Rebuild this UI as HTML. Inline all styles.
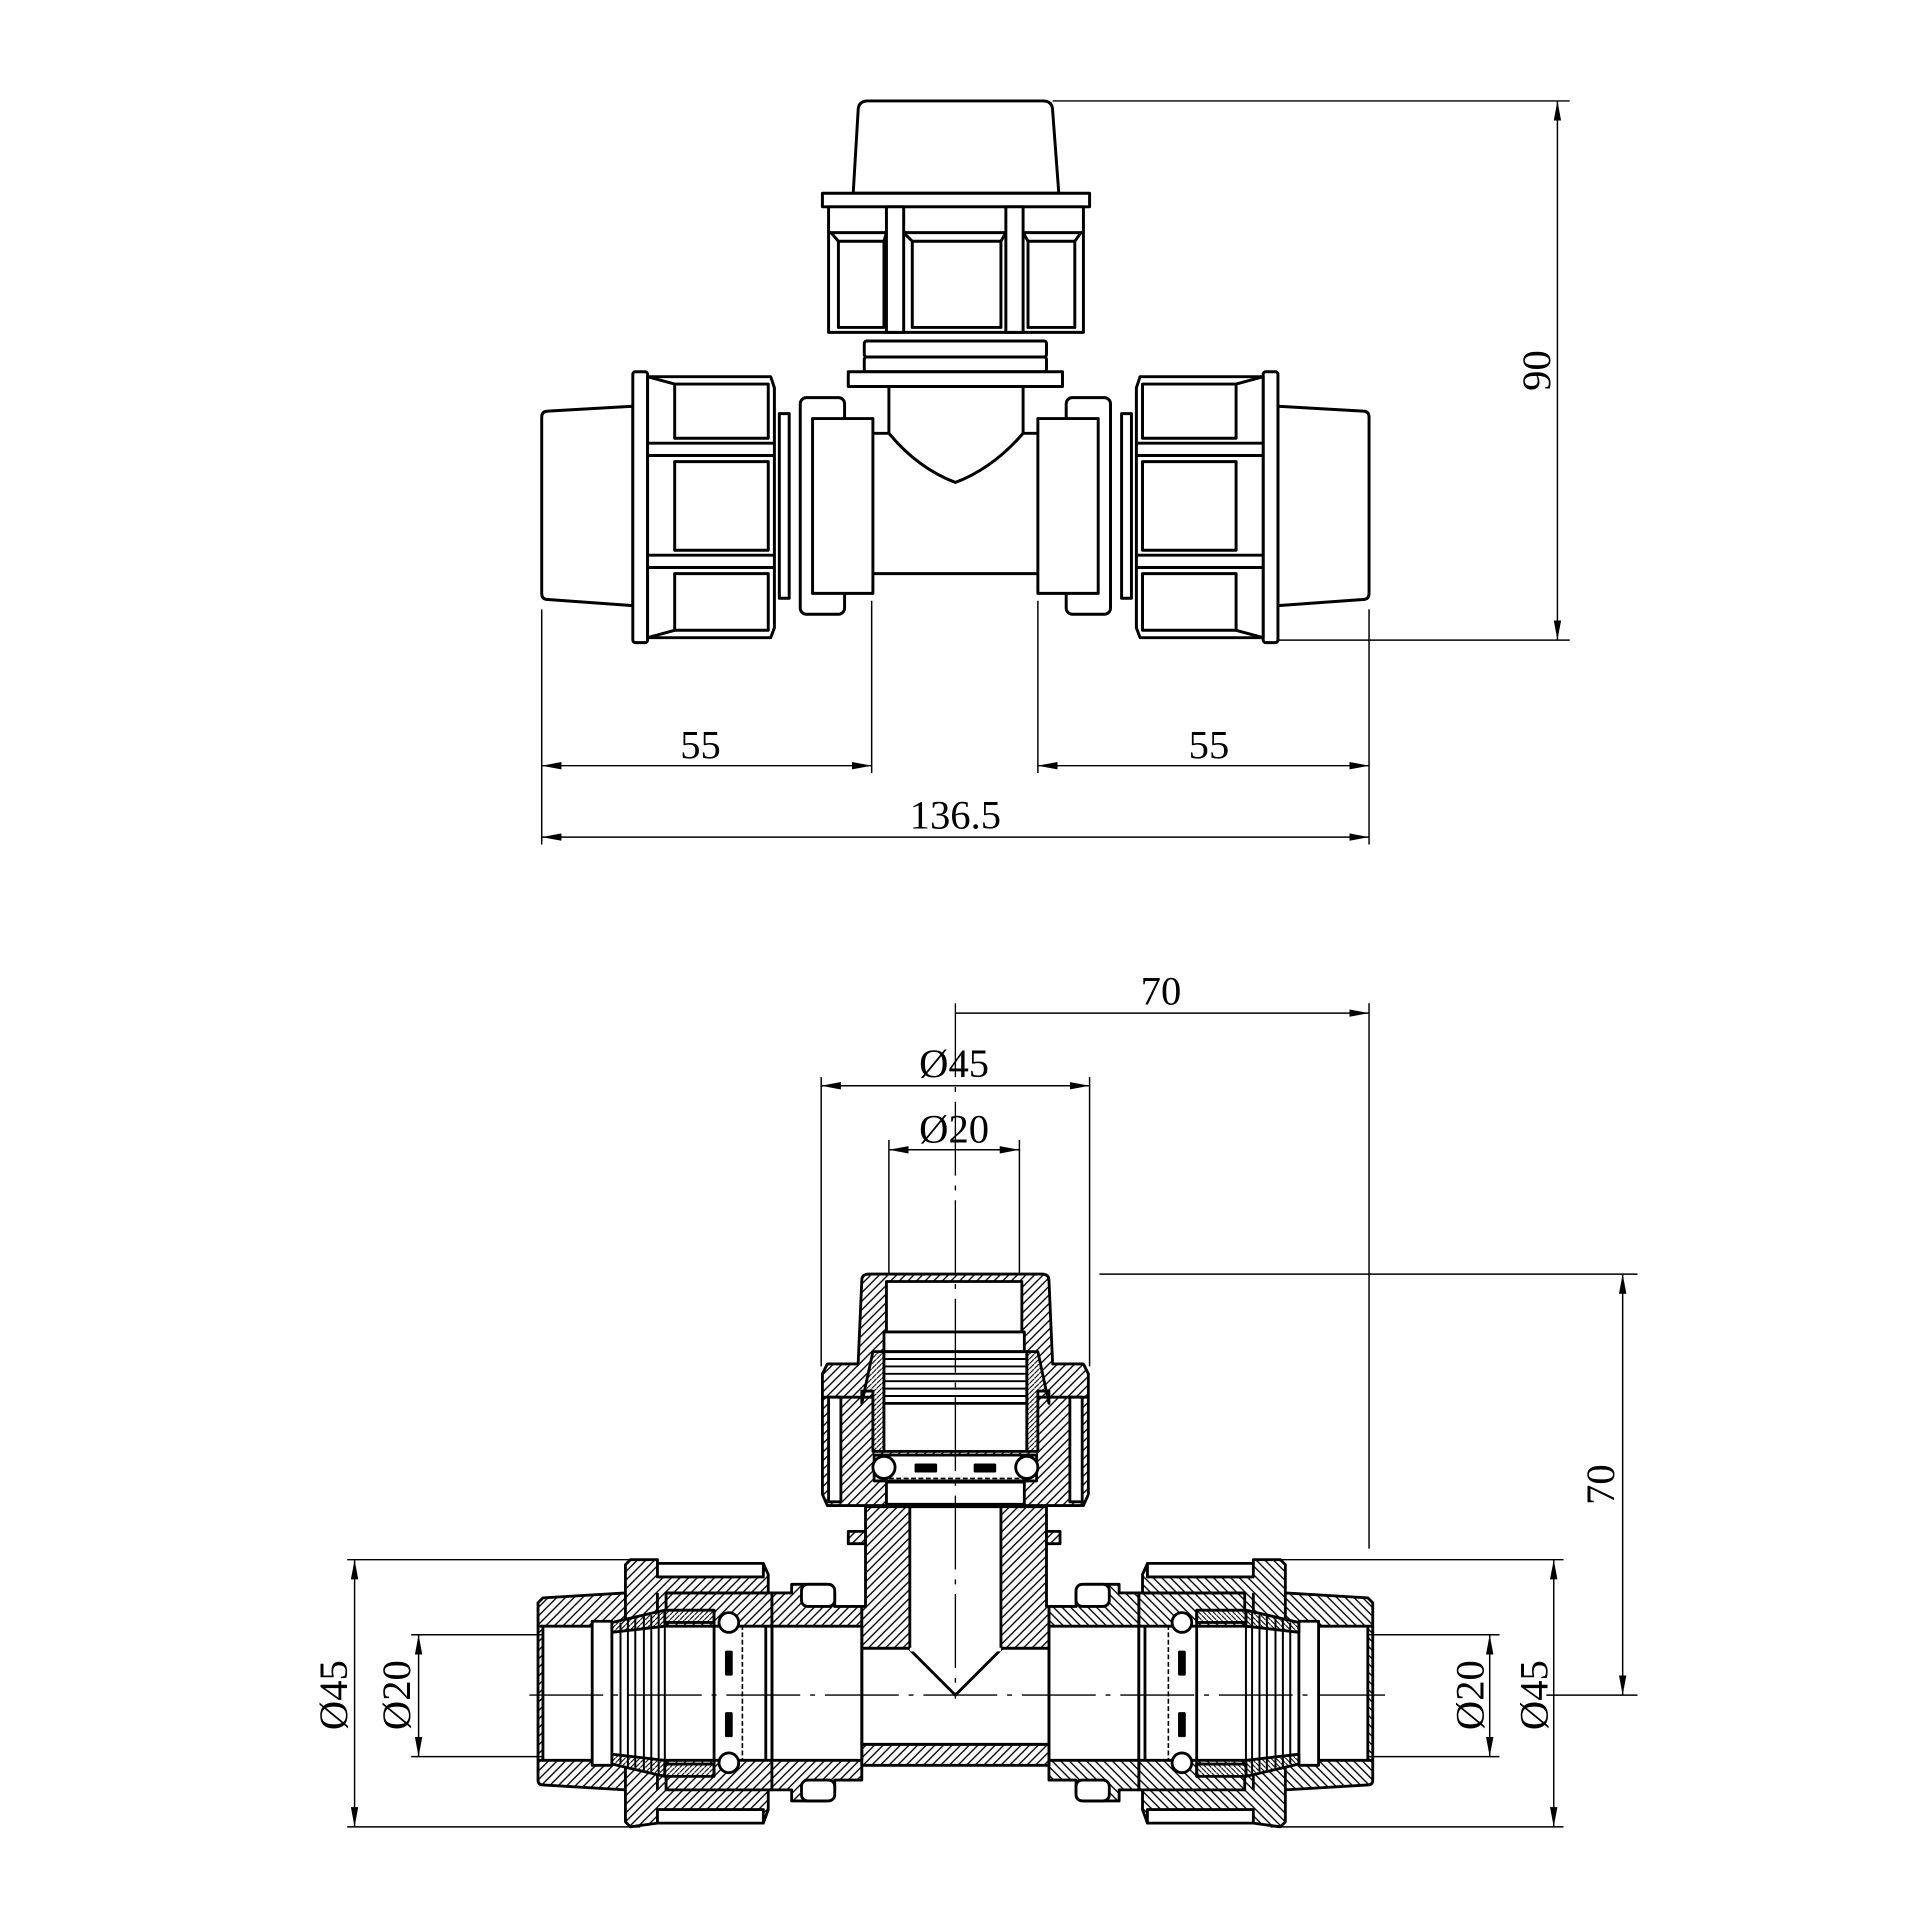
<!DOCTYPE html>
<html><head><meta charset="utf-8"><style>
html,body{margin:0;padding:0;background:#fff}
svg{display:block}
text{font-family:"Liberation Serif",serif;font-size:33px;fill:#000}
</style></head><body>
<svg width="1928" height="1929" viewBox="0 0 1566 1567" preserveAspectRatio="none" xmlns="http://www.w3.org/2000/svg">
<defs>
<pattern id="h" patternUnits="userSpaceOnUse" width="7" height="7"><rect width="7" height="7" fill="#fff"/><path d="M-1,8 L8,-1 M-2,2 L2,-2 M5,9 L9,5" stroke="#000" stroke-width="1.1"/></pattern>
<pattern id="h2" patternUnits="userSpaceOnUse" width="4" height="4"><rect width="4" height="4" fill="#fff"/><path d="M-1,5 L5,-1" stroke="#000" stroke-width="0.9"/></pattern>
<marker id="a" viewBox="0 0 16 6" refX="16" refY="3" markerWidth="16" markerHeight="6" markerUnits="userSpaceOnUse" orient="auto-start-reverse"><path d="M0,0 L16,3 L0,6 Z" fill="#000"/></marker>
</defs>

<!-- ===== TOP VIEW ===== -->
<g fill="#fff" stroke="#000" stroke-width="2.4" stroke-linejoin="round">
  <path d="M697,90 Q697,82 705,82 L847,82 Q855,82 855,90 L860,157 L693,157 Z"/>
  <rect x="668" y="157" width="217" height="11"/>
  <rect x="673" y="168" width="207" height="102"/>
  <line x1="673" y1="189" x2="880" y2="189"/>
  <rect x="720" y="168" width="14" height="102"/>
  <rect x="817" y="168" width="14" height="102"/>
  <rect x="681" y="196" width="37" height="70"/>
  <rect x="741" y="196" width="72" height="70"/>
  <rect x="835" y="196" width="38" height="70"/>
  <path d="M681,196 L675,189 M718,196 L720,189 M741,196 L734,189 M813,196 L817,189 M835,196 L831,189 M873,196 L878,189" fill="none"/>
  <rect x="702" y="277" width="148" height="13" rx="2"/>
  <rect x="702" y="290" width="148" height="12" rx="2"/>
  <rect x="689" y="302" width="174" height="12"/>
  <path d="M722,314 L722,352 Q745,380 776,392 Q807,380 831,352 L831,314 Z"/>
  <path d="M706,352 L722,352 Q745,380 776,392 Q807,380 831,352 L846,352 L846,466 L706,466 Z"/>
  <rect x="633" y="336" width="8" height="150"/>
  <rect x="650" y="323" width="36" height="176" rx="5"/>
  <rect x="660" y="340" width="49" height="142"/>
  <rect x="911" y="336" width="8" height="150"/>
  <rect x="866" y="323" width="36" height="176" rx="5"/>
  <rect x="843" y="340" width="49" height="142"/>
  <path d="M514,330 L445,334 Q440,334 440,339 L440,482 Q440,487 445,487 L514,492 Z"/>
  <rect x="514" y="302" width="12" height="220" rx="2"/>
  <path d="M526,306 L626,306 L629,315 L629,510 L626,518 L526,518 Z"/>
  <line x1="526" y1="360" x2="629" y2="360"/><line x1="526" y1="370" x2="629" y2="370"/>
  <line x1="526" y1="451" x2="629" y2="451"/><line x1="526" y1="461" x2="629" y2="461"/>
  <rect x="548" y="312" width="76" height="44"/>
  <rect x="548" y="375" width="76" height="72"/>
  <rect x="548" y="466" width="76" height="46"/>
  <line x1="548" y1="312" x2="526" y2="306"/><line x1="548" y1="512" x2="526" y2="518"/>
  <path d="M1038,330 L1107,334 Q1112,334 1112,339 L1112,482 Q1112,487 1107,487 L1038,492 Z"/>
  <rect x="1026" y="302" width="12" height="220" rx="2"/>
  <path d="M1026,306 L926,306 L923,315 L923,510 L926,518 L1026,518 Z"/>
  <line x1="923" y1="360" x2="1026" y2="360"/><line x1="923" y1="370" x2="1026" y2="370"/>
  <line x1="923" y1="451" x2="1026" y2="451"/><line x1="923" y1="461" x2="1026" y2="461"/>
  <rect x="928" y="312" width="76" height="44"/>
  <rect x="928" y="375" width="76" height="72"/>
  <rect x="928" y="466" width="76" height="46"/>
  <line x1="1004" y1="312" x2="1026" y2="306"/><line x1="1004" y1="512" x2="1026" y2="518"/>
</g>

<g stroke="#000" stroke-width="1.2" fill="none">
  <line x1="855" y1="82" x2="1275" y2="82"/>
  <line x1="1038" y1="520" x2="1275" y2="520"/>
  <line x1="1265" y1="82" x2="1265" y2="520" marker-start="url(#a)" marker-end="url(#a)"/>
  <line x1="440" y1="495" x2="440" y2="686"/>
  <line x1="1112" y1="495" x2="1112" y2="686"/>
  <line x1="708" y1="488" x2="708" y2="628"/>
  <line x1="843" y1="488" x2="843" y2="628"/>
  <line x1="440" y1="622" x2="708" y2="622" marker-start="url(#a)" marker-end="url(#a)"/>
  <line x1="843" y1="622" x2="1112" y2="622" marker-start="url(#a)" marker-end="url(#a)"/>
  <line x1="440" y1="680" x2="1112" y2="680" marker-start="url(#a)" marker-end="url(#a)"/>
</g>
<text x="569" y="616" text-anchor="middle">55</text>
<text x="982" y="616" text-anchor="middle">55</text>
<text x="776" y="673" text-anchor="middle">136.5</text>
<text transform="translate(1259,301) rotate(-90)" text-anchor="middle">90</text>

<!-- ===== SECTION VIEW ===== -->
<g id="leftc" stroke="#000" stroke-width="2.3" stroke-linejoin="round">
  <path d="M441,1298 L508,1294 L627,1294 L627,1454 L508,1454 L441,1450 Q437,1450 437,1446 L437,1302 Z" fill="url(#h)"/>
  <path d="M508,1271 L512,1267 L534,1267 L534,1270 L620,1270 L624,1279 L624,1294 L541,1294 L541,1454 L624,1454 L624,1470 L620,1481 L534,1481 L512,1484 L508,1480 Z" fill="url(#h)"/>
  <rect x="534" y="1270" width="86" height="11" fill="#fff"/>
  <rect x="534" y="1470" width="86" height="11" fill="#fff"/>
  <line x1="534" y1="1294" x2="534" y2="1454"/>
  <rect x="441" y="1321" width="186" height="109" fill="#fff"/>
  <line x1="437" y1="1321" x2="441" y2="1321"/><line x1="437" y1="1430" x2="441" y2="1430"/>
  <rect x="481" y="1317" width="16" height="117" fill="#fff"/>
  <path d="M497,1318 L540,1308 L540,1321 L497,1326 Z" fill="url(#h2)"/>
  <path d="M497,1433 L540,1443 L540,1430 L497,1425 Z" fill="url(#h2)"/>
  <g fill="none" stroke-width="1.6"><line x1="497" y1="1318" x2="497" y2="1433"/><line x1="504" y1="1318" x2="504" y2="1433"/><line x1="510" y1="1316" x2="510" y2="1435"/><line x1="516" y1="1315" x2="516" y2="1436"/><line x1="523" y1="1313" x2="523" y2="1438"/><line x1="529" y1="1312" x2="529" y2="1439"/><line x1="535" y1="1310" x2="535" y2="1441"/><line x1="540" y1="1308" x2="540" y2="1443"/></g>
  <rect x="540" y="1308" width="40" height="10" fill="url(#h2)"/>
  <rect x="540" y="1433" width="40" height="10" fill="url(#h2)"/>
  <line x1="580" y1="1308" x2="580" y2="1443"/>
  <line x1="603" y1="1320" x2="603" y2="1430" stroke-dasharray="4 2" stroke-width="1.3"/>
  <circle cx="592" cy="1318" r="8" fill="#fff"/>
  <circle cx="592" cy="1432" r="8" fill="#fff"/>
  <rect x="590" y="1342" width="4" height="18" fill="#000"/>
  <rect x="590" y="1392" width="4" height="18" fill="#000"/>
  <path d="M627,1294 L643,1294 L643,1287 L670,1287 Q678,1287 678,1295 L678,1305 L700,1305 L700,1321 L627,1321 Z" fill="url(#h)"/>
  <path d="M627,1454 L643,1454 L643,1463 L670,1463 Q678,1463 678,1455 L678,1446 L700,1446 L700,1430 L627,1430 Z" fill="url(#h)"/>
  <rect x="651" y="1287" width="27" height="18" rx="5" fill="#fff"/>
  <rect x="651" y="1446" width="27" height="17" rx="5" fill="#fff"/>
  <line x1="622" y1="1321" x2="622" y2="1430"/>
</g>
<use href="#leftc" transform="translate(1552,0) scale(-1,1)"/>

<g stroke="#000" stroke-width="2.3" stroke-linejoin="round">
  <path d="M700,1305 L700,1339 L852,1339 L852,1305 L850,1305 L850,1224 L703,1224 L703,1305 Z" fill="url(#h)"/>
  <rect x="700" y="1417" width="152" height="17" fill="url(#h)"/>
  <rect x="700" y="1339" width="152" height="78" fill="#fff"/>
  <line x1="700" y1="1321" x2="700" y2="1430"/>
  <line x1="852" y1="1321" x2="852" y2="1430"/>
  <path d="M689,1244 L703,1244 L703,1254 L689,1254 Z M850,1244 L861,1244 L861,1254 L850,1254 Z" fill="url(#h)"/>
  <path d="M739,1224 L739,1340 L776,1377 L813,1340 L813,1224 Z" fill="#fff"/>
  <line x1="739" y1="1340" x2="813" y2="1340" stroke="#fff" stroke-width="3"/>

  <path d="M668,1116 L672,1108 L697,1108 L700,1040 Q700,1035 706,1035 L846,1035 Q852,1035 852,1040 L855,1108 L880,1108 L884,1116 L884,1214 L880,1223 L672,1223 L668,1214 Z" fill="url(#h)"/>
  <line x1="668" y1="1135" x2="884" y2="1135"/>
  <rect x="673" y="1135" width="10" height="85" fill="#fff"/>
  <rect x="869" y="1135" width="10" height="85" fill="#fff"/>
  <rect x="720" y="1041" width="110" height="41" fill="#fff"/>
  <rect x="718" y="1082" width="114" height="16" fill="#fff"/>
  <path d="M709,1098 L718,1098 L718,1179 L709,1179 L709,1130 L700,1130 L700,1140 Z" fill="url(#h2)"/>
  <path d="M843,1098 L834,1098 L834,1179 L843,1179 L843,1130 L852,1130 L852,1140 Z" fill="url(#h2)"/>
  <rect x="718" y="1098" width="116" height="42" fill="#fff"/>
  <g stroke-width="1.6"><line x1="718" y1="1104" x2="834" y2="1104"/><line x1="718" y1="1110" x2="834" y2="1110"/><line x1="718" y1="1116" x2="834" y2="1116"/><line x1="718" y1="1122" x2="834" y2="1122"/><line x1="718" y1="1128" x2="834" y2="1128"/><line x1="718" y1="1134" x2="834" y2="1134"/></g>
  <rect x="718" y="1140" width="116" height="39" fill="#fff"/>
  <rect x="710" y="1182" width="132" height="21" fill="#fff"/>
  <line x1="716" y1="1201" x2="836" y2="1201" stroke-dasharray="4 2" stroke-width="1.3"/>
  <rect x="720" y="1204" width="112" height="18" fill="#fff"/>
  <circle cx="718" cy="1192" r="9" fill="#fff"/>
  <circle cx="834" cy="1192" r="9" fill="#fff"/>
  <rect x="744" y="1190" width="16" height="5" fill="#000"/>
  <rect x="792" y="1190" width="16" height="5" fill="#000"/>
</g>

<g stroke="#000" stroke-width="1.1" fill="none">
  <line x1="776" y1="815" x2="776" y2="1380" stroke-dasharray="60 8 4 8"/>
  <line x1="430" y1="1377" x2="1125" y2="1377" stroke-dasharray="60 8 4 8"/>
</g>

<g stroke="#000" stroke-width="1.2" fill="none">
  <line x1="776" y1="823" x2="1112" y2="823" marker-end="url(#a)"/>
  <line x1="1112" y1="815" x2="1112" y2="1258"/>
  <line x1="667" y1="875" x2="667" y2="1110"/>
  <line x1="885" y1="875" x2="885" y2="1110"/>
  <line x1="667" y1="882" x2="885" y2="882" marker-start="url(#a)" marker-end="url(#a)"/>
  <line x1="722" y1="926" x2="722" y2="1035"/>
  <line x1="828" y1="926" x2="828" y2="1035"/>
  <line x1="722" y1="934" x2="828" y2="934" marker-start="url(#a)" marker-end="url(#a)"/>
  <line x1="893" y1="1035" x2="1330" y2="1035"/>
  <line x1="1256" y1="1377" x2="1330" y2="1377"/>
  <line x1="1318" y1="1035" x2="1318" y2="1377" marker-start="url(#a)" marker-end="url(#a)"/>
  <line x1="282" y1="1267" x2="520" y2="1267"/>
  <line x1="282" y1="1484" x2="520" y2="1484"/>
  <line x1="288" y1="1267" x2="288" y2="1484" marker-start="url(#a)" marker-end="url(#a)"/>
  <line x1="334" y1="1328" x2="440" y2="1328"/>
  <line x1="334" y1="1427" x2="440" y2="1427"/>
  <line x1="340" y1="1328" x2="340" y2="1427" marker-start="url(#a)" marker-end="url(#a)"/>
  <line x1="1032" y1="1267" x2="1270" y2="1267"/>
  <line x1="1032" y1="1484" x2="1270" y2="1484"/>
  <line x1="1262" y1="1267" x2="1262" y2="1484" marker-start="url(#a)" marker-end="url(#a)"/>
  <line x1="1112" y1="1328" x2="1218" y2="1328"/>
  <line x1="1112" y1="1427" x2="1218" y2="1427"/>
  <line x1="1210" y1="1328" x2="1210" y2="1427" marker-start="url(#a)" marker-end="url(#a)"/>
</g>
<text x="943" y="816" text-anchor="middle">70</text>
<text x="775" y="875" text-anchor="middle">Ø45</text>
<text x="775" y="928" text-anchor="middle">Ø20</text>
<text transform="translate(1311,1206) rotate(-90)" text-anchor="middle">70</text>
<text transform="translate(282,1377) rotate(-90)" text-anchor="middle">Ø45</text>
<text transform="translate(333,1377) rotate(-90)" text-anchor="middle">Ø20</text>
<text transform="translate(1205,1377) rotate(-90)" text-anchor="middle">Ø20</text>
<text transform="translate(1257,1377) rotate(-90)" text-anchor="middle">Ø45</text>
</svg>
</body></html>
